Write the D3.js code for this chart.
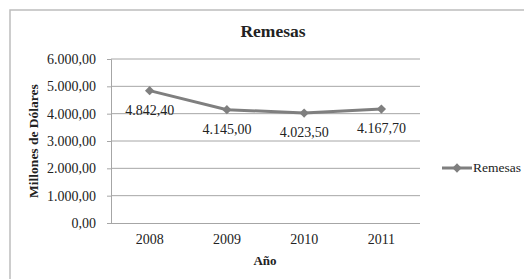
<!DOCTYPE html>
<html>
<head>
<meta charset="utf-8">
<script src="https://cdn.jsdelivr.net/npm/d3@7"></script>
<style>
    body { margin: 0; background: #fff; }
    text { font-family: "Liberation Serif", "Times New Roman", serif; fill: #222; }
</style>
</head>
<body>
<script>
    "use strict";

    var years = ["2008", "2009", "2010", "2011"];
    var remesas = [4842.4, 4145.0, 4023.5, 4167.7];
    var yTicks = [0, 1000, 2000, 3000, 4000, 5000, 6000];
    var seriesName = "Remesas";

    var width = 524,
        height = 279;

    var es = d3.formatLocale({decimal: ",", thousands: ".", grouping: [3], currency: ["", ""]});
    var fmt = es.format(",.2f");

    var svg = d3.select("body").append("svg")
        .attr("width", width)
        .attr("height", height);

    // chart border, runs off the right and bottom edge
    svg.append("rect")
        .attr("x", 10)
        .attr("y", 10)
        .attr("width", 540)
        .attr("height", 300)
        .attr("fill", "none")
        .attr("stroke", "#bdbdbd")
        .attr("stroke-width", 1.5);

    var xScale = d3.scaleBand()
        .domain(years)
        .range([111, 420]);

    var yScale = d3.scaleLinear()
        .domain([0, 6000])
        .range([223, 59]);

    // gridlines
    svg.selectAll("line.grid")
        .data(yTicks.slice(1))
        .enter().append("line")
            .classed("grid", true)
            .attr("x1", 111)
            .attr("x2", 420)
            .attr("y1", function(d) { return yScale(d); })
            .attr("y2", function(d) { return yScale(d); })
            .attr("stroke", "#a6a6a6")
            .attr("stroke-width", 1);

    // y axis
    var yAxis = svg.append("g")
        .attr("transform", "translate(111,0)")
        .call(d3.axisLeft(yScale).tickValues(yTicks).tickFormat(fmt).tickSize(4).tickPadding(11));
    yAxis.selectAll("line, path").attr("stroke", "#a6a6a6");
    yAxis.selectAll("text")
        .style("font-family", "Liberation Serif")
        .style("font-size", "14px")
        .attr("fill", "#222");

    // x axis
    var xAxis = svg.append("g")
        .attr("transform", "translate(0,223)")
        .call(d3.axisBottom(xScale).tickSize(0).tickPadding(11));
    xAxis.selectAll("path").attr("stroke", "#a6a6a6").attr("d", "M111,0.5H420");
    xAxis.selectAll("text")
        .style("font-family", "Liberation Serif")
        .style("font-size", "14px")
        .attr("fill", "#222");

    var line = d3.line()
        .x(function(d, i) { return xScale(years[i]) + xScale.bandwidth() / 2; })
        .y(function(d) { return yScale(d); });

    svg.append("path")
        .datum(remesas)
        .attr("d", line)
        .attr("fill", "none")
        .attr("stroke", "#7f7f7f")
        .attr("stroke-width", 3);

    var diamond = d3.symbol().type(d3.symbolDiamond2).size(55);

    svg.selectAll("path.marker")
        .data(remesas)
        .enter().append("path")
            .classed("marker", true)
            .attr("d", diamond)
            .attr("fill", "#7f7f7f")
            .attr("transform", function(d, i) {
                return "translate(" + (xScale(years[i]) + xScale.bandwidth() / 2) + "," + yScale(d) + ")";
            });

    svg.selectAll("text.label")
        .data(remesas)
        .enter().append("text")
            .classed("label", true)
            .attr("x", function(d, i) { return xScale(years[i]) + xScale.bandwidth() / 2; })
            .attr("y", function(d) { return yScale(d) + 24; })
            .attr("text-anchor", "middle")
            .style("font-size", "14px")
            .text(function(d) { return fmt(d); });

    // titles
    svg.append("text")
        .attr("x", 273)
        .attr("y", 37)
        .attr("text-anchor", "middle")
        .style("font-size", "17.5px")
        .style("font-weight", "bold")
        .text("Remesas");

    svg.append("text")
        .attr("x", 265)
        .attr("y", 265)
        .attr("text-anchor", "middle")
        .style("font-size", "13px")
        .style("font-weight", "bold")
        .text("Año");

    svg.append("text")
        .attr("transform", "translate(38,141) rotate(-90)")
        .attr("text-anchor", "middle")
        .style("font-size", "13.5px")
        .style("font-weight", "bold")
        .text("Millones de Dólares");

    // legend
    var legend = svg.append("g").attr("transform", "translate(442,168)");
    legend.append("line")
        .attr("x1", 0)
        .attr("x2", 30)
        .attr("stroke", "#7f7f7f")
        .attr("stroke-width", 3);
    legend.append("path")
        .attr("d", diamond)
        .attr("fill", "#7f7f7f")
        .attr("transform", "translate(15,0)");
    legend.append("text")
        .attr("x", 31)
        .attr("dy", "0.33em")
        .style("font-size", "13.5px")
        .text(seriesName);
</script>
</body>
</html>
